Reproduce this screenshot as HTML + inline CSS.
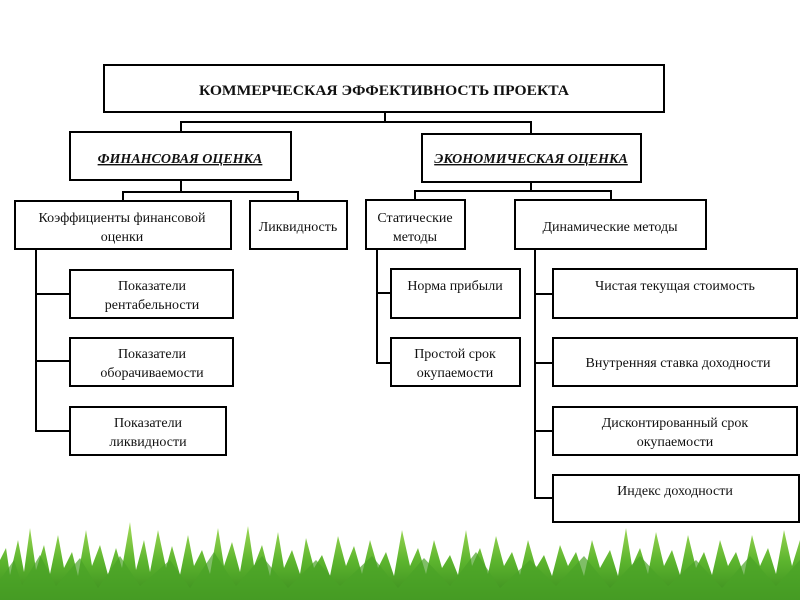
<!DOCTYPE html>
<html><head><meta charset="utf-8"><style>
html,body{margin:0;padding:0;background:#fff;width:800px;height:600px;overflow:hidden}
svg text{font-family:"Liberation Serif",serif;font-size:14px;fill:#111}
</style></head><body>
<svg width="800" height="600" viewBox="0 0 800 600" xmlns="http://www.w3.org/2000/svg">
<defs><linearGradient id="g" x1="0" y1="0" x2="0" y2="1"><stop offset="0" stop-color="#a6dc5a"/><stop offset="0.5" stop-color="#5cb52e"/><stop offset="1" stop-color="#3a8a1e"/></linearGradient></defs>
<polygon fill="url(#g)" points="0,600 0,560 6,548 10,575 18,540 24,572 30,528 36,570 44,545 50,574 58,535 64,568 72,552 78,576 86,530 92,566 100,545 108,575 116,548 122,568 130,522 136,570 144,540 150,572 158,530 166,568 172,546 180,575 188,535 194,566 202,550 210,574 218,528 224,566 232,542 240,572 248,526 254,566 262,545 270,576 278,532 284,568 292,550 300,574 306,538 314,568 322,555 330,576 338,536 346,566 354,546 362,574 370,540 378,568 386,552 394,576 402,530 410,566 418,548 426,574 434,540 442,568 450,555 458,575 466,530 472,566 480,548 488,574 496,536 504,566 512,552 520,575 528,540 536,568 544,555 552,576 560,545 568,566 576,552 584,576 592,540 600,568 610,550 618,576 626,528 632,566 640,548 648,574 656,532 664,566 672,550 680,575 688,535 696,568 704,552 712,575 720,540 728,566 736,552 744,575 752,535 760,566 768,548 776,574 784,530 792,566 800,540 800,600"/>
<polygon fill="#4aa326" opacity="0.7" points="0,600 0,580 14,560 22,585 40,555 56,586 80,558 98,588 120,556 140,586 170,560 190,588 214,552 236,586 262,556 288,588 316,560 340,586 372,556 398,588 424,558 450,586 476,552 500,588 530,560 556,586 584,556 610,588 640,556 668,586 696,560 722,588 750,556 776,586 800,560 800,600"/>
<g fill="none" stroke="#000" stroke-width="2">
<rect x="104" y="65" width="560" height="47"/>
<rect x="70" y="132" width="221" height="48"/>
<rect x="422" y="134" width="219" height="48"/>
<rect x="15" y="201" width="216" height="48"/>
<rect x="250" y="201" width="97" height="48"/>
<rect x="366" y="200" width="99" height="49"/>
<rect x="515" y="200" width="191" height="49"/>
<rect x="70" y="270" width="163" height="48"/>
<rect x="70" y="338" width="163" height="48"/>
<rect x="70" y="407" width="156" height="48"/>
<rect x="391" y="269" width="129" height="49"/>
<rect x="391" y="338" width="129" height="48"/>
<rect x="553" y="269" width="244" height="49"/>
<rect x="553" y="338" width="244" height="48"/>
<rect x="553" y="407" width="244" height="48"/>
<rect x="553" y="475" width="246" height="47"/>
<polyline points="385,112 385,122"/>
<polyline points="181,132 181,122 531,122 531,134"/>
<polyline points="181,180 181,192"/>
<polyline points="123,201 123,192 298,192 298,201"/>
<polyline points="531,182 531,191"/>
<polyline points="415,200 415,191 611,191 611,200"/>
<polyline points="36,249 36,431 70,431"/>
<line x1="36" y1="294" x2="70" y2="294"/>
<line x1="36" y1="361" x2="70" y2="361"/>
<polyline points="377,249 377,363 391,363"/>
<line x1="377" y1="293" x2="391" y2="293"/>
<polyline points="535,249 535,498 553,498"/>
<line x1="535" y1="294" x2="553" y2="294"/>
<line x1="535" y1="363" x2="553" y2="363"/>
<line x1="535" y1="431" x2="553" y2="431"/>
</g>
<text x="199" y="95" textLength="370" lengthAdjust="spacingAndGlyphs" style="font-size:15px;font-weight:bold">КОММЕРЧЕСКАЯ ЭФФЕКТИВНОСТЬ ПРОЕКТА</text>
<text x="180" y="163" text-anchor="middle" style="font-weight:bold;font-style:italic;text-decoration:underline">ФИНАНСОВАЯ ОЦЕНКА</text>
<text x="531" y="163" text-anchor="middle" style="font-weight:bold;font-style:italic;text-decoration:underline">ЭКОНОМИЧЕСКАЯ ОЦЕНКА</text>
<text x="122" y="222" text-anchor="middle">Коэффициенты финансовой</text>
<text x="122" y="241" text-anchor="middle">оценки</text>
<text x="298" y="231" text-anchor="middle">Ликвидность</text>
<text x="415" y="222" text-anchor="middle">Статические</text>
<text x="415" y="241" text-anchor="middle">методы</text>
<text x="610" y="231" text-anchor="middle">Динамические методы</text>
<text x="152" y="290" text-anchor="middle">Показатели</text>
<text x="152" y="309" text-anchor="middle">рентабельности</text>
<text x="152" y="358" text-anchor="middle">Показатели</text>
<text x="152" y="377" text-anchor="middle">оборачиваемости</text>
<text x="148" y="427" text-anchor="middle">Показатели</text>
<text x="148" y="446" text-anchor="middle">ликвидности</text>
<text x="455" y="290" text-anchor="middle">Норма прибыли</text>
<text x="455" y="358" text-anchor="middle">Простой срок</text>
<text x="455" y="377" text-anchor="middle">окупаемости</text>
<text x="675" y="290" text-anchor="middle">Чистая текущая стоимость</text>
<text x="678" y="367" text-anchor="middle">Внутренняя ставка доходности</text>
<text x="675" y="427" text-anchor="middle">Дисконтированный срок</text>
<text x="675" y="446" text-anchor="middle">окупаемости</text>
<text x="675" y="495" text-anchor="middle">Индекс доходности</text>
</svg>
</body></html>
